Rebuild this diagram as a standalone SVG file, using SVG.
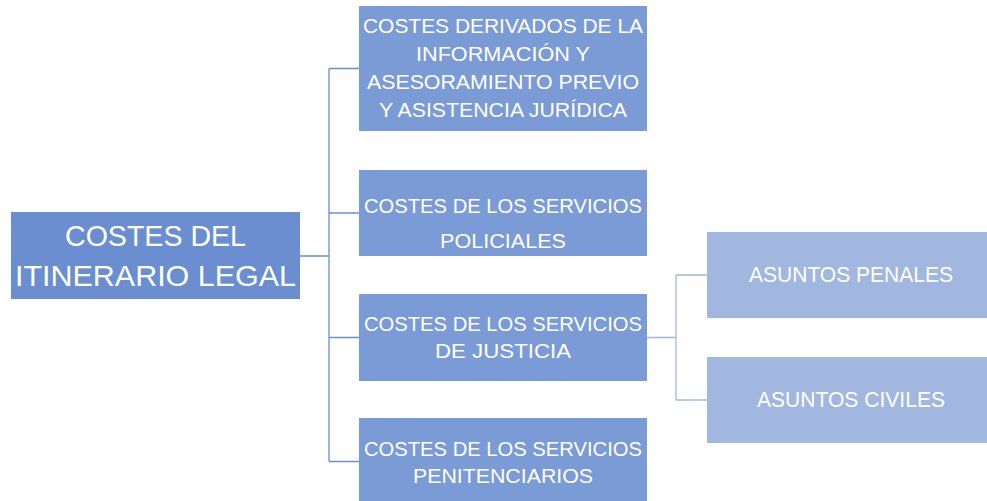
<svg xmlns="http://www.w3.org/2000/svg" width="987" height="501" viewBox="0 0 987 501">
<style>
.t{font-family:"Liberation Sans",Arial,sans-serif;fill:#fff;text-anchor:middle}
.l2{fill:#7a9bd5}
.l3{fill:#a1b7e0}
.c1{fill:none;stroke:#6a8ed0;stroke-width:1.3}
.c2{fill:none;stroke:#a1b7e0;stroke-width:1.3}
</style>
<rect width="987" height="501" fill="#fff"/>
<g id="connectors">
<path class="c1" d="M300 256H329M329 68.5V461.5M329 68.5H359M329 213H359M329 337.5H359M329 461.5H359"/>
<path class="c2" d="M647 337.5H676M676 275V400M676 275H707M676 400H707"/>
</g>
<g id="root">
<rect x="11" y="212" width="289" height="87" fill="#6a8ed0"/>
<text class="t" x="155.5" y="246" font-size="30" textLength="181" lengthAdjust="spacingAndGlyphs">COSTES DEL</text>
<text class="t" x="155.5" y="286" font-size="30" textLength="281" lengthAdjust="spacingAndGlyphs">ITINERARIO LEGAL</text>
</g>
<g id="n1">
<rect class="l2" x="359" y="6" width="288" height="125"/>
<text class="t" x="503" y="33" font-size="20.5" textLength="280" lengthAdjust="spacingAndGlyphs">COSTES DERIVADOS DE LA</text>
<text class="t" x="503" y="61" font-size="20.5" textLength="174" lengthAdjust="spacingAndGlyphs">INFORMACIÓN Y</text>
<text class="t" x="503" y="89" font-size="20.5" textLength="272" lengthAdjust="spacingAndGlyphs">ASESORAMIENTO PREVIO</text>
<text class="t" x="503" y="117" font-size="20.5" textLength="248" lengthAdjust="spacingAndGlyphs">Y ASISTENCIA JURÍDICA</text>
</g>
<g id="n2">
<rect class="l2" x="359" y="170" width="288" height="86"/>
<text class="t" x="503" y="213" font-size="20.5" textLength="278" lengthAdjust="spacingAndGlyphs">COSTES DE LOS SERVICIOS</text>
<text class="t" x="503" y="248" font-size="20.5" textLength="126" lengthAdjust="spacingAndGlyphs">POLICIALES</text>
</g>
<g id="n3">
<rect class="l2" x="359" y="294" width="288" height="87"/>
<text class="t" x="503" y="331" font-size="20.5" textLength="278" lengthAdjust="spacingAndGlyphs">COSTES DE LOS SERVICIOS</text>
<text class="t" x="503" y="358" font-size="20.5" textLength="136" lengthAdjust="spacingAndGlyphs">DE JUSTICIA</text>
</g>
<g id="n4">
<rect class="l2" x="359" y="418" width="288" height="87"/>
<text class="t" x="503" y="456" font-size="20.5" textLength="278" lengthAdjust="spacingAndGlyphs">COSTES DE LOS SERVICIOS</text>
<text class="t" x="503" y="483" font-size="20.5" textLength="180" lengthAdjust="spacingAndGlyphs">PENITENCIARIOS</text>
</g>
<g id="n5">
<rect class="l3" x="707" y="232" width="282" height="86"/>
<text class="t" x="851" y="282" font-size="22" textLength="204" lengthAdjust="spacingAndGlyphs">ASUNTOS PENALES</text>
</g>
<g id="n6">
<rect class="l3" x="707" y="357" width="282" height="86"/>
<text class="t" x="851" y="407" font-size="22" textLength="188" lengthAdjust="spacingAndGlyphs">ASUNTOS CIVILES</text>
</g>
</svg>
